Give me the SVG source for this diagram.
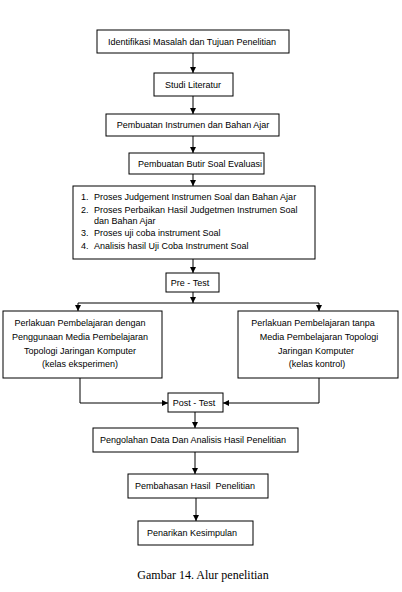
<svg xmlns="http://www.w3.org/2000/svg" width="402" height="592" viewBox="0 0 402 592">
<style>
.box{fill:#fff;stroke:#000;stroke-width:1}
.t{font-family:"Liberation Sans",Arial,sans-serif;font-size:9px;fill:#000;text-anchor:middle;white-space:pre}
.l{text-anchor:start}
.c{stroke:#000;stroke-width:1;fill:none;marker-end:url(#ah)}
.p{stroke:#000;stroke-width:1;fill:none}
.cap{font-family:"Liberation Serif","Times New Roman",serif;font-size:12px;text-anchor:middle;fill:#000}
</style>
<defs>
<marker id="ah" markerUnits="userSpaceOnUse" markerWidth="7" markerHeight="7" refX="6" refY="3.5" orient="auto">
<path d="M0,0.5 L6,3.5 L0,6.5 Z" fill="#000"/>
</marker>
</defs>
<rect width="402" height="592" fill="#fff"/>
<g id="connectors">
<line class="c" x1="193" y1="53" x2="193" y2="73"/>
<line class="c" x1="193" y1="96" x2="193" y2="114"/>
<line class="c" x1="193" y1="136" x2="193" y2="153"/>
<line class="c" x1="193" y1="174" x2="193" y2="186"/>
<line class="c" x1="193" y1="259" x2="193" y2="273"/>
<line class="c" x1="193" y1="292" x2="193" y2="303"/>
<line class="p" x1="78" y1="303" x2="319" y2="303"/>
<line class="c" x1="78" y1="303" x2="78" y2="311"/>
<line class="c" x1="319" y1="303" x2="319" y2="311"/>
<polyline class="c" points="80,378 80,403 168,403"/>
<polyline class="c" points="319,378 319,403 223,403"/>
<line class="c" x1="195" y1="412" x2="195" y2="428"/>
<line class="c" x1="195" y1="452" x2="195" y2="474"/>
<line class="c" x1="196" y1="498" x2="196" y2="521"/>
</g>
<g id="n1"><rect class="box" x="97" y="30" width="192" height="23"/><text class="t" x="192" y="45">Identifikasi Masalah dan Tujuan Penelitian</text></g>
<g id="n2"><rect class="box" x="154" y="73" width="79" height="23"/><text class="t" x="193" y="88">Studi Literatur</text></g>
<g id="n3"><rect class="box" x="106" y="114" width="173" height="22"/><text class="t" x="193" y="128">Pembuatan Instrumen dan Bahan Ajar</text></g>
<g id="n4"><rect class="box" x="129" y="153" width="135" height="21"/><text class="t" x="200" y="167">Pembuatan Butir Soal Evaluasi</text></g>
<g id="n5"><rect class="box" x="73" y="186" width="242" height="73"/>
<text class="t l" x="81" y="200">1.</text><text class="t l" x="94" y="200">Proses Judgement Instrumen Soal dan Bahan Ajar</text>
<text class="t l" x="81" y="213">2.</text><text class="t l" x="94" y="213">Proses Perbaikan Hasil Judgetmen Instrumen Soal</text>
<text class="t l" x="94" y="224">dan Bahan Ajar</text>
<text class="t l" x="81" y="236">3.</text><text class="t l" x="94" y="236">Proses uji coba instrument Soal</text>
<text class="t l" x="81" y="249">4.</text><text class="t l" x="94" y="249">Analisis hasil Uji Coba Instrument Soal</text>
</g>
<g id="n6"><rect class="box" x="166" y="273" width="53" height="19"/><text class="t" x="190" y="286">Pre - Test</text></g>
<g id="n7"><rect class="box" x="3" y="311" width="159" height="67"/>
<text class="t" x="80" y="326">Perlakuan Pembelajaran dengan</text>
<text class="t" x="80" y="340">Penggunaan Media Pembelajaran</text>
<text class="t" x="80" y="354">Topologi Jaringan Komputer</text>
<text class="t" x="80" y="367">(kelas eksperimen)</text>
</g>
<g id="n8"><rect class="box" x="238" y="311" width="160" height="67"/>
<text class="t" x="313" y="326">Perlakuan Pembelajaran tanpa</text>
<text class="t" x="319" y="340">Media Pembelajaran Topologi</text>
<text class="t" x="316" y="354">Jaringan Komputer</text>
<text class="t" x="317" y="367">(kelas kontrol)</text>
</g>
<g id="n9"><rect class="box" x="168" y="393" width="55" height="19"/><text class="t" x="194" y="406">Post - Test</text></g>
<g id="n10"><rect class="box" x="93" y="428" width="205" height="24"/><text class="t" x="193" y="443">Pengolahan Data Dan Analisis Hasil Penelitian</text></g>
<g id="n11"><rect class="box" x="128" y="474" width="140" height="24"/><text class="t" x="195" y="489">Pembahasan Hasil  Penelitian</text></g>
<g id="n12"><rect class="box" x="138" y="521" width="115" height="24"/><text class="t l" x="147" y="536">Penarikan Kesimpulan</text></g>
<text class="cap" x="203" y="579">Gambar 14. Alur penelitian</text>
</svg>
